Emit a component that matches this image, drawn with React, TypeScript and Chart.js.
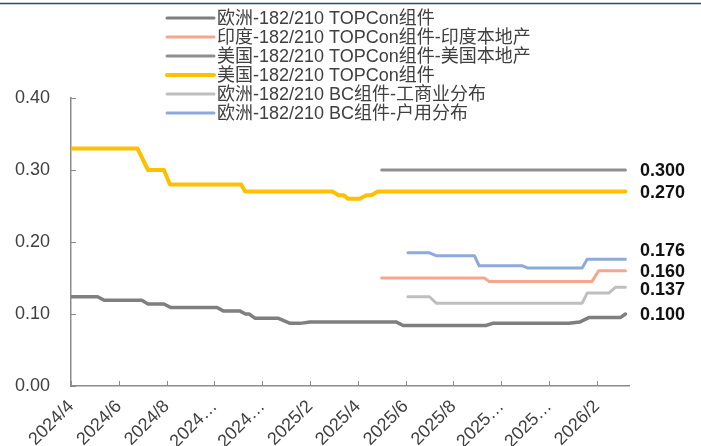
import React, { useEffect, useRef } from 'react';
import { Chart, registerables } from 'chart.js';

Chart.register(...registerables);

// x values are months counted from 2024/4
const tickLabels = ['2024/4', '2024/6', '2024/8', '2024…', '2024…', '2025/2', '2025/4', '2025/6', '2025/8', '2025…', '2025…', '2026/2'];
const xMaxMonths = 23.35;

const seriesNames = [
  '欧洲-182/210 TOPCon组件',
  '印度-182/210 TOPCon组件-印度本地产',
  '美国-182/210 TOPCon组件-美国本地产',
  '美国-182/210 TOPCon组件',
  '欧洲-182/210 BC组件-工商业分布',
  '欧洲-182/210 BC组件-户用分布',
];

const euTopcon: [number, number][] = [
  [0, 0.124], [1.11, 0.124], [1.39, 0.119], [2.96, 0.119], [3.22, 0.114], [3.89, 0.114],
  [4.17, 0.109], [6.11, 0.109], [6.39, 0.104], [7.08, 0.104], [7.3, 0.1], [7.45, 0.1],
  [7.71, 0.094], [8.68, 0.094], [9.17, 0.087], [9.58, 0.087], [10.0, 0.089], [13.6, 0.089],
  [13.9, 0.084], [17.36, 0.084], [17.64, 0.087], [20.83, 0.087], [21.3, 0.089], [21.67, 0.095],
  [22.99, 0.095], [23.2, 0.1],
];
const indiaLocal: [number, number][] = [
  [13.0, 0.15], [17.3, 0.15], [17.5, 0.145], [21.8, 0.145], [22.08, 0.16], [23.2, 0.16],
];
const usLocal: [number, number][] = [
  [13.0, 0.3], [23.2, 0.3],
];
const usTopcon: [number, number][] = [
  [0, 0.33], [2.78, 0.33], [3.22, 0.3], [3.89, 0.3], [4.14, 0.28], [7.12, 0.28], [7.29, 0.27],
  [10.94, 0.27], [11.2, 0.265], [11.4, 0.265], [11.6, 0.26], [12.08, 0.26], [12.36, 0.265],
  [12.57, 0.265], [12.83, 0.27], [23.2, 0.27],
];
const euBcCommercial: [number, number][] = [
  [14.1, 0.124], [15.0, 0.124], [15.28, 0.115], [21.39, 0.115], [21.6, 0.129], [22.5, 0.129],
  [22.78, 0.137], [23.2, 0.137],
];
const euBcResidential: [number, number][] = [
  [14.1, 0.185], [15.0, 0.185], [15.28, 0.181], [16.88, 0.181], [17.08, 0.167], [18.89, 0.167],
  [19.1, 0.164], [21.39, 0.164], [21.6, 0.176], [23.2, 0.176],
];

const allSeries = [euTopcon, indiaLocal, usLocal, usTopcon, euBcCommercial, euBcResidential];
const colors = ['#7F7F7F', '#F4A78C', '#8F8F8F', '#FFC000', '#BFBFBF', '#8EA9DB'];
const widths = [3.5, 3, 3, 4, 3, 3];

// end labels: dataset index -> vertical nudge (px)
const endLabelOrder = [2, 3, 5, 1, 4, 0];
const endLabelNudge: Record<number, number> = { 2: 0, 3: 0, 5: -9, 1: 0, 4: 1.5, 0: 0 };

const FONT = "'Liberation Sans', Arial, 'Noto Sans CJK SC', sans-serif";

const decorPlugin = {
  id: 'decor',
  afterDraw(chart: any) {
    const { ctx, chartArea, scales } = chart;
    const xs = scales.x;
    const ys = scales.y;
    ctx.save();

    // top rule
    ctx.strokeStyle = '#1F4E79';
    ctx.lineWidth = 1.5;
    ctx.beginPath();
    ctx.moveTo(0, 3.5);
    ctx.lineTo(chart.width, 3.5);
    ctx.stroke();

    // inner tick marks
    ctx.strokeStyle = '#8C8C8C';
    ctx.lineWidth = 1;
    ctx.beginPath();
    ys.ticks.forEach((t: any) => {
      const py = Math.round(ys.getPixelForValue(t.value)) + 0.5;
      ctx.moveTo(chartArea.left, py);
      ctx.lineTo(chartArea.left + 5, py);
    });
    xs.ticks.forEach((t: any) => {
      const px = Math.round(xs.getPixelForValue(t.value)) + 0.5;
      ctx.moveTo(px, chartArea.bottom);
      ctx.lineTo(px, chartArea.bottom - 5);
    });
    ctx.stroke();

    // legend
    ctx.font = `18px ${FONT}`;
    ctx.textBaseline = 'middle';
    ctx.textAlign = 'left';
    seriesNames.forEach((name, i) => {
      const ly = 18 + i * 19;
      ctx.strokeStyle = colors[i];
      ctx.lineWidth = i === 3 ? 4 : 3;
      ctx.lineCap = 'round';
      ctx.beginPath();
      ctx.moveTo(167, ly);
      ctx.lineTo(214, ly);
      ctx.stroke();
      ctx.fillStyle = '#404040';
      ctx.fillText(name, 217, ly + 1);
    });

    // end value labels
    ctx.font = `bold 18px ${FONT}`;
    ctx.fillStyle = '#111111';
    endLabelOrder.forEach((idx) => {
      const s = allSeries[idx];
      const v = s[s.length - 1][1];
      const py = ys.getPixelForValue(v) + (endLabelNudge[idx] || 0);
      ctx.fillText(v.toFixed(3), chartArea.right + 11, py + 1);
    });

    ctx.restore();
  },
};

export default function App() {
  const ref = useRef<HTMLCanvasElement>(null);

  useEffect(() => {
    document.body.style.margin = '0';
    if (!ref.current) return;
    const chart = new Chart(ref.current, {
      type: 'line',
      data: {
        datasets: allSeries.map((s, i) => ({
          label: seriesNames[i],
          data: s.map(([x, y]) => ({ x, y })),
          borderColor: colors[i],
          backgroundColor: colors[i],
          borderWidth: widths[i],
          pointRadius: 0,
          tension: 0,
          fill: false,
          borderCapStyle: 'round' as const,
          borderJoinStyle: 'round' as const,
        })),
      },
      options: {
        responsive: false,
        animation: false,
        devicePixelRatio: 1,
        layout: { padding: { top: 98, right: 72, left: 0, bottom: 0 } },
        plugins: {
          legend: { display: false },
          tooltip: { enabled: false },
        },
        scales: {
          x: {
            type: 'linear',
            min: 0,
            max: xMaxMonths,
            grid: { display: false, drawTicks: false },
            border: { display: true, color: '#8C8C8C', width: 1.5 },
            afterBuildTicks: (scale: any) => {
              scale.ticks = tickLabels.map((_, i) => ({ value: i * 2 }));
            },
            afterFit: (scale: any) => {
              scale.height = 60;
            },
            ticks: {
              autoSkip: false,
              maxRotation: 45,
              minRotation: 45,
              padding: 10,
              color: '#404040',
              font: { family: FONT, size: 18 },
              callback: (value: any) => tickLabels[Math.round(Number(value) / 2)] ?? '',
            },
          },
          y: {
            min: 0,
            max: 0.4,
            grid: { display: false, drawTicks: false },
            border: { display: true, color: '#8C8C8C', width: 1.5 },
            afterFit: (scale: any) => {
              scale.width = 71;
            },
            ticks: {
              stepSize: 0.1,
              padding: 21,
              color: '#404040',
              font: { family: FONT, size: 18 },
              callback: (value: any) => Number(value).toFixed(2),
            },
          },
        },
      },
      plugins: [decorPlugin],
    });
    return () => chart.destroy();
  }, []);

  return (
    <div style={{ width: 701, height: 446, background: '#fff' }}>
      <canvas ref={ref} width={701} height={446} style={{ display: 'block' }} />
    </div>
  );
}
